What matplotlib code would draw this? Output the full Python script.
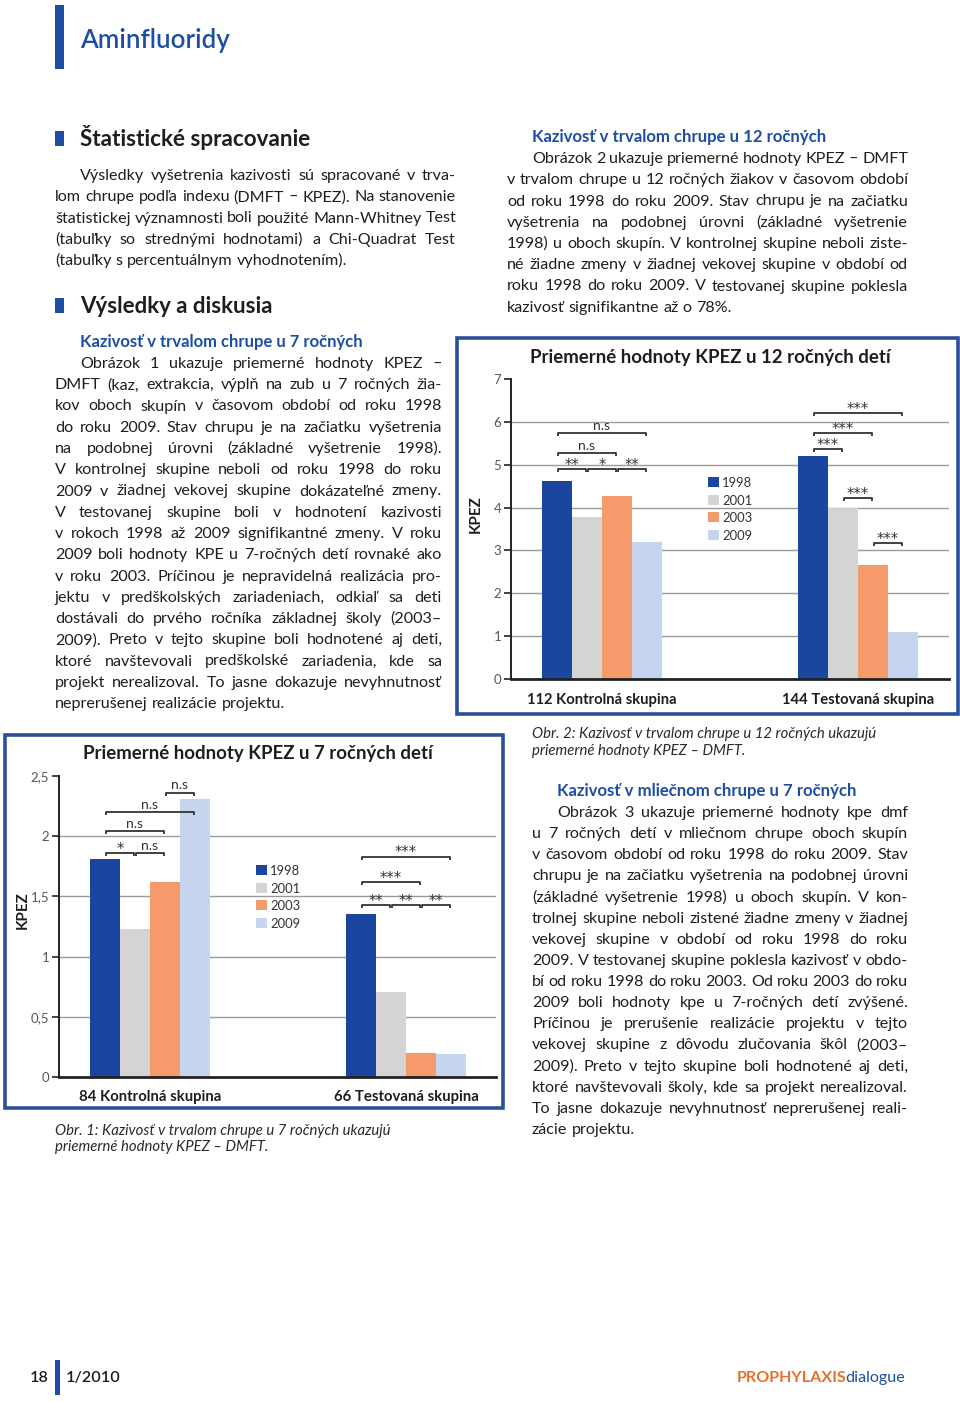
import matplotlib
matplotlib.use("Agg")
import matplotlib.pyplot as plt
from matplotlib.font_manager import FontProperties
from matplotlib.patches import Rectangle

W, H = 960, 1402
FAM = ['Lato', 'DejaVu Sans']
plt.rcParams['font.family'] = FAM

# ---------------- data ----------------
years = ['1998', '2001', '2003', '2009']
bar_colors = ['#1b46a0', '#d4d4d4', '#f59b6b', '#c6d4ee']

groups12 = ['112 Kontrolná skupina', '144 Testovaná skupina']
kpez12_control = [4.63, 3.78, 4.27, 3.20]
kpez12_test = [5.20, 3.99, 2.66, 1.10]
ticks12 = [0, 1, 2, 3, 4, 5, 6, 7]
ticklabels12 = ['0', '1', '2', '3', '4', '5', '6', '7']
# (group, bar_i, bar_j, level, label)
brackets12 = [(0, 0, 1, 4.90, '**'), (0, 1, 2, 4.90, '*'), (0, 2, 3, 4.90, '**'),
              (0, 0, 2, 5.27, 'n.s'), (0, 0, 3, 5.74, 'n.s'),
              (1, 0, 1, 5.37, '***'), (1, 0, 2, 5.74, '***'), (1, 0, 3, 6.20, '***'),
              (1, 1, 2, 4.22, '***'), (1, 2, 3, 3.17, '***')]

groups7 = ['84 Kontrolná skupina', '66 Testovaná skupina']
kpez7_control = [1.81, 1.23, 1.62, 2.31]
kpez7_test = [1.35, 0.705, 0.20, 0.19]
ticks7 = [0, 0.5, 1, 1.5, 2, 2.5]
ticklabels7 = ['0', '0,5', '1', '1,5', '2', '2,5']
brackets7 = [(0, 0, 1, 1.86, '*'), (0, 1, 2, 1.86, 'n.s'), (0, 0, 2, 2.04, 'n.s'),
             (0, 0, 3, 2.20, 'n.s'), (0, 2, 3, 2.36, 'n.s'),
             (1, 0, 1, 1.43, '**'), (1, 1, 2, 1.43, '**'), (1, 2, 3, 1.43, '**'),
             (1, 0, 2, 1.62, '***'), (1, 0, 3, 1.83, '***')]

# ---------------- text ----------------
title_page = 'Aminfluoridy'
head1 = 'Štatistické spracovanie'
para1 = ['Výsledky vyšetrenia kazivosti sú spracované v trva-',
         'lom chrupe podľa indexu (DMFT – KPEZ). Na stanovenie',
         'štatistickej významnosti boli použité Mann-Whitney Test',
         '(tabuľky so strednými hodnotami) a Chi-Quadrat Test',
         '(tabuľky s percentuálnym vyhodnotením).']
head2 = 'Výsledky a diskusia'
sub1 = 'Kazivosť v trvalom chrupe u 7 ročných'
para2 = ['Obrázok 1 ukazuje priemerné hodnoty KPEZ –',
         'DMFT (kaz, extrakcia, výplň na zub u 7 ročných žia-',
         'kov oboch skupín v časovom období od roku 1998',
         'do roku 2009. Stav chrupu je na začiatku vyšetrenia',
         'na podobnej úrovni (základné vyšetrenie 1998).',
         'V kontrolnej skupine neboli od roku 1998 do roku',
         '2009 v žiadnej vekovej skupine dokázateľné zmeny.',
         'V testovanej skupine boli v hodnotení kazivosti',
         'v rokoch 1998 až 2009 signifikantné zmeny. V roku',
         '2009 boli hodnoty KPE u 7-ročných detí rovnaké ako',
         'v roku 2003. Príčinou je nepravidelná realizácia pro-',
         'jektu v predškolských zariadeniach, odkiaľ sa deti',
         'dostávali do prvého ročníka základnej školy (2003–',
         '2009). Preto v tejto skupine boli hodnotené aj deti,',
         'ktoré navštevovali predškolské zariadenia, kde sa',
         'projekt nerealizoval. To jasne dokazuje nevyhnutnosť',
         'neprerušenej realizácie projektu.']
sub2 = 'Kazivosť v trvalom chrupe u 12 ročných'
para3 = ['Obrázok 2 ukazuje priemerné hodnoty KPEZ – DMFT',
         'v trvalom chrupe u 12 ročných žiakov v časovom období',
         'od roku 1998 do roku 2009. Stav chrupu je na začiatku',
         'vyšetrenia na podobnej úrovni (základné vyšetrenie',
         '1998) u oboch skupín. V kontrolnej skupine neboli ziste-',
         'né žiadne zmeny v žiadnej vekovej skupine v období od',
         'roku 1998 do roku 2009. V testovanej skupine poklesla',
         'kazivosť signifikantne až o 78%.']
cap2 = ['Obr. 2: Kazivosť v trvalom chrupe u 12 ročných ukazujú',
        'priemerné hodnoty KPEZ – DMFT.']
sub3 = 'Kazivosť v mliečnom chrupe u 7 ročných'
para4 = ['Obrázok 3 ukazuje priemerné hodnoty kpe dmf',
         'u 7 ročných detí v mliečnom chrupe oboch skupín',
         'v časovom období od roku 1998 do roku 2009. Stav',
         'chrupu je na začiatku vyšetrenia na podobnej úrovni',
         '(základné vyšetrenie 1998) u oboch skupín. V kon-',
         'trolnej skupine neboli zistené žiadne zmeny v žiadnej',
         'vekovej skupine v období od roku 1998 do roku',
         '2009. V testovanej skupine poklesla kazivosť v obdo-',
         'bí od roku 1998 do roku 2003. Od roku 2003 do roku',
         '2009 boli hodnoty kpe u 7-ročných detí zvýšené.',
         'Príčinou je prerušenie realizácie projektu v tejto',
         'vekovej skupine z dôvodu zlučovania škôl (2003–',
         '2009). Preto v tejto skupine boli hodnotené aj deti,',
         'ktoré navštevovali školy, kde sa projekt nerealizoval.',
         'To jasne dokazuje nevyhnutnosť neprerušenej reali-',
         'zácie projektu.']
cap1 = ['Obr. 1: Kazivosť v trvalom chrupe u 7 ročných ukazujú',
        'priemerné hodnoty KPEZ – DMFT.']
title12 = 'Priemerné hodnoty KPEZ u 12 ročných detí'
title7 = 'Priemerné hodnoty KPEZ u 7 ročných detí'

BLUE = '#1d4ea3'
FRAME = '#2b4f9b'
TXT = '#1e1e1e'

fig = plt.figure(figsize=(W / 100, H / 100), dpi=100)
fig.patch.set_facecolor('white')
renderer = fig.canvas.get_renderer()


def fp(size=10, weight='normal', style='normal', family=None):
    return FontProperties(family=family or FAM, size=size, weight=weight, style=style)


def width(s, prop):
    w, h, d = renderer.get_text_width_height_descent(s, prop, ismath=False)
    return w


def fit(s, target, weight='normal', style='normal'):
    w = width(s, fp(10, weight, style))
    return 10 * target / w


def put(x, yb, s, prop, color=TXT, ha='left', **kw):
    fig.text(x / W, 1 - yb / H, s, fontproperties=prop, color=color,
             ha=ha, va='baseline', **kw)


def line(x0, x1, yb, s, prop, color=TXT, justify=True):
    words = s.split(' ')
    ws = [width(w, prop) for w in words]
    sp = width('a a', prop) - 2 * width('a', prop)
    if justify and len(words) > 1:
        gap = (x1 - x0 - sum(ws)) / (len(words) - 1)
    else:
        gap = sp
    x = x0
    for wd, w in zip(words, ws):
        put(x, yb, wd, prop, color)
        x += w + gap


def paragraph(lines, x0, x1, yb0, step, prop, indent=25):
    for k, s in enumerate(lines):
        xs = x0 + (indent if k == 0 else 0)
        line(xs, x1, yb0 + k * step, s, prop, justify=(k < len(lines) - 1))


def rect(x, y, w, h, **kw):
    fig.patches.append(Rectangle((x / W, 1 - (y + h) / H), w / W, h / H,
                                 transform=fig.transFigure, figure=fig, **kw))


# ---------------- page header ----------------
rect(55, 5, 9, 64, color=BLUE, lw=0)
put(80, 48, title_page, fp(fit(title_page, 149, 'semibold'), 'semibold'), BLUE)

body = fp(fit('neprerušenej realizácie projektu.', 231))
STEP = 21.25

rect(55, 131, 9, 15, color=BLUE, lw=0)
put(80, 146, head1, fp(fit(head1, 231, 'bold'), 'bold'))
paragraph(para1, 55, 456, 180, STEP, body)

rect(55, 298, 9, 15, color=BLUE, lw=0)
put(80, 313, head2, fp(fit(head2, 193, 'bold'), 'bold'))

put(80, 347, sub1, fp(fit(sub1, 285, 'bold'), 'bold'), BLUE)
paragraph(para2, 55, 442, 368, STEP, body)

put(532, 142, sub2, fp(fit(sub2, 295, 'bold'), 'bold'), BLUE)
paragraph(para3, 507, 908, 163, STEP, body)

capfp = fp(fit(cap2[0], 345, 'normal', 'italic'), 'normal', 'italic')
put(532, 738, cap2[0], capfp, '#2a2a2a')
put(532, 754.5, cap2[1], capfp, '#2a2a2a')

put(557, 796, sub3, fp(fit(sub3, 301, 'bold'), 'bold'), BLUE)
paragraph(para4, 532, 908, 817, 21.13, body)

put(55, 1135, cap1[0], capfp, '#2a2a2a')
put(55, 1151.5, cap1[1], capfp, '#2a2a2a')

# ---------------- footer ----------------
foot = fp(fit('1/2010', 54, 'semibold'), 'semibold')
put(30, 1382, '18', foot)
rect(55, 1360, 5, 35, color=BLUE, lw=0)
put(66, 1382, '1/2010', foot)
pfp = fp(fit('PROPHYLAXISdialogue', 171, 'bold'), 'bold')
wp = width('PROPHYLAXIS', pfp)
put(737, 1382, 'PROPHYLAXIS', pfp, '#e8702a')
put(737 + wp - 1.5, 1382, 'dialogue', fp(pfp.get_size(), 'normal'), BLUE)

STARFP = FontProperties(family='DejaVu Sans', size=10.5)


# ---------------- charts ----------------
def chart(box, axpx, ymax, ticks, ticklabels, control, test, brackets, groups,
          title, title_w, title_xy, ylab_xy, legend_xy, group_w, group_y, drop):
    bx, by, bw, bh = box
    rect(bx, by, bw, bh, fill=False, edgecolor=FRAME, lw=2.6)
    l, r, b, t = axpx
    ax = fig.add_axes([l / W, 1 - b / H, (r - l) / W, (b - t) / H])
    xmax = (r - l) / 30.0
    ax.set_xlim(0, xmax)
    ax.set_ylim(0, ymax)
    centers = [1.533 + k for k in range(4)], [10.067 + k for k in range(4)]
    for gi, vals in enumerate([control, test]):
        for k, v in enumerate(vals):
            ax.bar(centers[gi][k], v, width=1.0, color=bar_colors[k], lw=0, zorder=2)
    for v in ticks[1:-1]:
        ax.axhline(v, color='#9a9a9a', lw=1.0, zorder=1)
    ax.set_yticks(ticks)
    ax.set_yticklabels(ticklabels, fontproperties=fp(9.5, 'normal'), color='#555555')
    ax.tick_params(axis='y', direction='out', length=5, width=1.2, color='#222222', pad=2)
    ax.set_xticks([])
    for s in ['top', 'right']:
        ax.spines[s].set_visible(False)
    ax.spines['left'].set_color('#222222')
    ax.spines['left'].set_linewidth(1.4)
    ax.spines['bottom'].set_color('#222222')
    ax.spines['bottom'].set_linewidth(2.0)
    ax.set_facecolor('none')
    for g, i, j, lev, lab in brackets:
        x1 = centers[g][i] + 0.03
        x2 = centers[g][j] - 0.03
        ax.plot([x1, x1, x2, x2], [lev - drop, lev, lev, lev - drop],
                color='#333333', lw=1.3, zorder=3, clip_on=False, solid_capstyle='butt')
        if lab.startswith('*'):
            ax.annotate(lab, ((x1 + x2) / 2, lev), xytext=(0, -0.5), textcoords='offset points',
                        ha='center', va='baseline', fontproperties=STARFP, color='#333333',
                        annotation_clip=False)
        else:
            ax.annotate(lab, ((x1 + x2) / 2, lev), xytext=(0, 2.5), textcoords='offset points',
                        ha='center', va='baseline', fontproperties=fp(10), color='#333333',
                        annotation_clip=False)
    # title
    put(title_xy[0], title_xy[1], title, fp(fit(title, title_w, 'bold'), 'bold'), ha='center')
    # y label
    fig.text(ylab_xy[0] / W, 1 - ylab_xy[1] / H, 'KPEZ', fontproperties=fp(11, 'bold'),
             color=TXT, rotation=90, ha='center', va='center')
    # legend
    lx, ly = legend_xy
    lfp = fp(fit('1998', 30, 'normal'), 'normal')
    for k, yr in enumerate(years):
        yy = ly + k * 17.7
        rect(lx, yy - 10, 11, 10, color=bar_colors[k], lw=0)
        put(lx + 14, yy, yr, lfp, '#333333')
    # group labels
    gfp = fp(fit(groups[0], group_w, 'bold'), 'bold')
    for gi in range(2):
        cx = l + (sum(centers[gi]) / 4) * 30
        put(cx, group_y, groups[gi], gfp, ha='center')
    return ax


chart((457, 338, 501, 376), (511, 949, 679, 379), 7, ticks12, ticklabels12,
      kpez12_control, kpez12_test, brackets12, groups12,
      title12, 362, (710, 363), (476, 514), (708, 487), 149, 704, 0.07)

chart((5, 735, 498, 373), (59, 496, 1077, 776), 2.5, ticks7, ticklabels7,
      kpez7_control, kpez7_test, brackets7, groups7,
      title7, 350, (258, 759), (23, 910), (256, 875), 142, 1101, 0.025)

fig.savefig('out.png', dpi=100, facecolor='white')
